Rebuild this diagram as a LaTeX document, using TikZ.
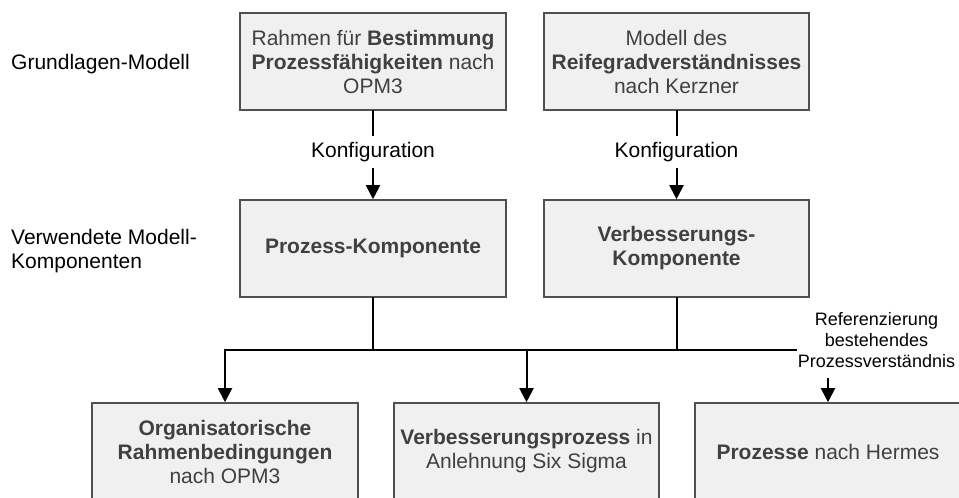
\documentclass[tikz,border=0pt]{standalone}
\usepackage{fontspec}
\setmainfont{Liberation Sans}
\usetikzlibrary{arrows.meta}
\definecolor{boxfill}{HTML}{F0F0F0}
\definecolor{boxline}{HTML}{505050}
\definecolor{boxtext}{HTML}{404040}

\begin{document}
\begin{tikzpicture}[x=1pt,y=-1pt,
    box/.style={draw=boxline,line width=1.6pt,fill=boxfill,text=boxtext,
      minimum width=266pt,minimum height=97pt,inner sep=0pt,align=center,
      font=\fontsize{21}{24}\selectfont},
    lbl/.style={inner sep=0pt,align=left,font=\fontsize{21}{24}\selectfont},
    konf/.style={fill=white,inner xsep=2pt,inner ysep=6.6pt,yshift=3pt,
      font=\fontsize{21}{24}\selectfont},
    ref/.style={fill=white,inner xsep=1pt,inner ysep=10pt,align=center,
      font=\fontsize{18}{21}\selectfont},
    conn/.style={line width=2pt,line cap=rect},
    arr/.style={conn,-{Triangle[width=14pt,length=14pt]}}]
        \clip (0,0) rectangle (959,498);
        \node[lbl,anchor=base west](grund) at (11,69) {Grundlagen-Modell};
        \node[lbl,anchor=north west](verw) at (11,229) {Verwendete Modell-\\Komponenten};
        \node[box](rahmen) at (373,61.5) {Rahmen für \textbf{Bestimmung}\\\textbf{Prozessfähigkeiten} nach\\OPM3};
        \node[box,minimum width=265pt](modell) at (676.5,61.5) {Modell des\\\textbf{Reifegradverständnisses}\\nach Kerzner};
        \node[box](prozkomp) at (373,248.5) {\textbf{Prozess-Komponente}};
        \node[box,minimum width=265pt](verbkomp) at (676.5,248.5) {\textbf{Verbesserungs-}\\\textbf{Komponente}};
        \node[box](orga) at (225,451.5) {\textbf{Organisatorische}\\\textbf{Rahmenbedingungen}\\nach OPM3};
        \node[box,minimum width=265pt](verbproz) at (526.5,451.5) {\textbf{Verbesserungsprozess} in\\Anlehnung Six Sigma};
        \node[box](hermes) at (828,451.5) {\textbf{Prozesse} nach Hermes};
        \coordinate(busl) at (225,350);
        \coordinate(busr) at (828,350);
        \draw[arr](rahmen)--node[konf]{Konfiguration}(prozkomp);
        \draw[arr](modell)--node[konf]{Konfiguration}(verbkomp);
        \draw[conn](prozkomp.south)--(prozkomp.south |- busl);
        \draw[conn](verbkomp.south)--(verbkomp.south |- busl);
        \draw[conn](busl)--(busr);
        \draw[arr](busl)--(orga);
        \draw[arr](verbproz.north |- busl)--(verbproz);
        \draw[arr](busr)--(hermes);
        \node[ref](referenz) at (876.5,340) {Referenzierung\\bestehendes\\Prozessverständnis};
        \end{tikzpicture}
\end{document}
